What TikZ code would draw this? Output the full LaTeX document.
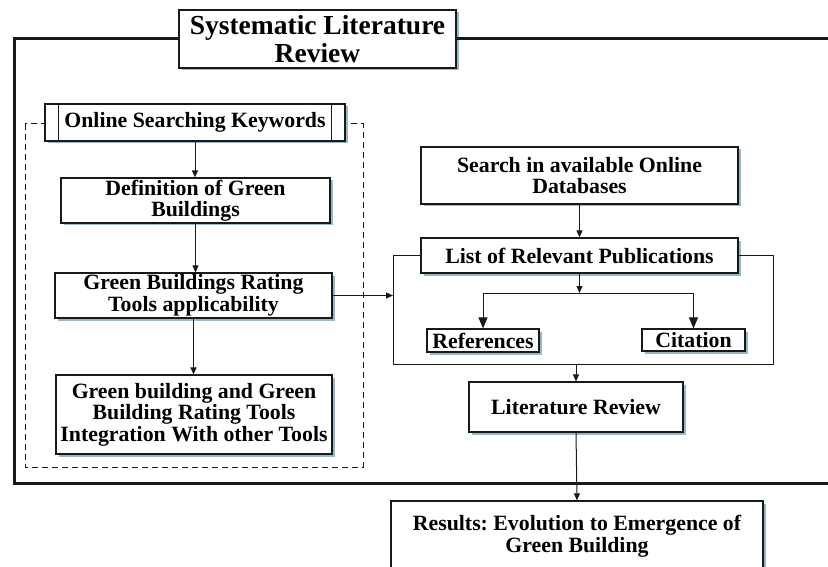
\documentclass[tikz,border=0pt]{standalone}
\usepackage{fontspec}
\setmainfont{Liberation Serif}
\frenchspacing
\usetikzlibrary{arrows.meta,shadows}
\definecolor{shadowc}{RGB}{150,185,195}
\definecolor{linec}{RGB}{25,25,25}
\tikzset{
  box/.style={draw=linec, line width=1.2pt, fill=white, align=center, inner sep=0pt,
    font=\fontsize{21.8}{21.5}\selectfont\bfseries,
    drop shadow={shadow xshift=2.5pt, shadow yshift=-2.5pt, fill=shadowc, opacity=1}},
  conn/.style={draw=linec, line width=1pt},
  arr/.style={conn, -{Triangle[length=7pt,width=6pt]}},
  bigarr/.style={conn, -{Triangle[length=11pt,width=9pt]}},
  frame/.style={draw=linec, line width=3pt},
}
\begin{document}
\begin{tikzpicture}[x=1pt,y=-1pt]
\useasboundingbox (0,0) rectangle (828,567);
\clip (0,0) rectangle (828,567);
\fill[white] (0,0) rectangle (828,567);

% dashed group
\draw[conn, dashed, dash pattern=on 6pt off 4pt] (25,124) rectangle (363,467);

% title
\node[box, minimum width=277pt, minimum height=58pt, font=\fontsize{27.5}{28}\selectfont\bfseries] (title) at (317.5,39) {Systematic Literature\\Review};

% outer frame
\coordinate (ftl) at (14,39);
\coordinate (fbl) at (14,483);
\coordinate (fbr) at (832,483);
\coordinate (ftr) at (832,39);
\draw[frame] (title.west) -- (ftl) -- (fbl) -- (fbr);
\draw[frame] (title.east) -- (ftr);

% left column
\node[box, minimum width=300pt, minimum height=37pt] (osk) at (195,122.5) {Online Searching Keywords};
\draw[conn, line width=1.2pt] ([xshift=14pt]osk.north west) -- ([xshift=14pt]osk.south west);
\draw[conn, line width=1.2pt] ([xshift=-14pt]osk.north east) -- ([xshift=-14pt]osk.south east);
\node[box, minimum width=269pt, minimum height=45pt] (def) at (195.5,200.5) {Definition of Green\\Buildings};
\node[box, minimum width=277pt, minimum height=45pt] (gbrt) at (193.5,295.5) {Green Buildings Rating\\Tools applicability};
\node[box, minimum width=276pt, minimum height=79pt] (gbi) at (194,414.5) {Green building and Green\\Building Rating Tools\\Integration With other Tools};

\draw[arr] (osk.south) -- (osk.south |- def.north);
\draw[arr] (def.south) -- (def.south |- gbrt.north);
\draw[arr] (gbrt.south) -- (gbrt.south |- gbi.north);

% right column
\node[box, minimum width=317pt, minimum height=57pt] (search) at (579.5,175.5) {Search in available Online\\Databases};
\node[box, minimum width=317pt, minimum height=35pt] (list) at (579.5,255.5) {List of Relevant Publications};
\node[box, minimum width=112pt, minimum height=23pt] (refs) at (483,340.5) {References};
\node[box, minimum width=103pt, minimum height=22pt] (cit) at (693.5,340) {Citation};
\node[box, minimum width=214pt, minimum height=50pt] (lr) at (576,407) {Literature Review};
\node[box, minimum width=372pt, minimum height=70pt] (res) at (577,536) {Results: Evolution to Emergence of\\Green Building};

\draw[arr] (search.south) -- (list.north);

% bracket group
\coordinate (gtl) at (393,255.5);
\coordinate (gbl) at (393,364);
\coordinate (gbr) at (773,364);
\coordinate (gtr) at (773,255.5);
\coordinate (gin) at (393,295.5);
\draw[conn] (list.west) -- (gtl) -- (gbl) -- (gbr) -- (gtr) -- (list.east);
\draw[arr] (gbrt.east) -- (gin);

% branch
\coordinate (br) at (579.5,293);
\draw[arr] (list.south) -- (br);
\draw[conn] (refs.north |- br) -- (cit.north |- br);
\draw[bigarr] (refs.north |- br) -- (refs.north);
\draw[bigarr] (cit.north |- br) -- (cit.north);

\draw[arr] (lr.north |- gbl) -- (lr.north);
\draw[arr] (lr.south) -- (res.north);
\end{tikzpicture}
\end{document}
